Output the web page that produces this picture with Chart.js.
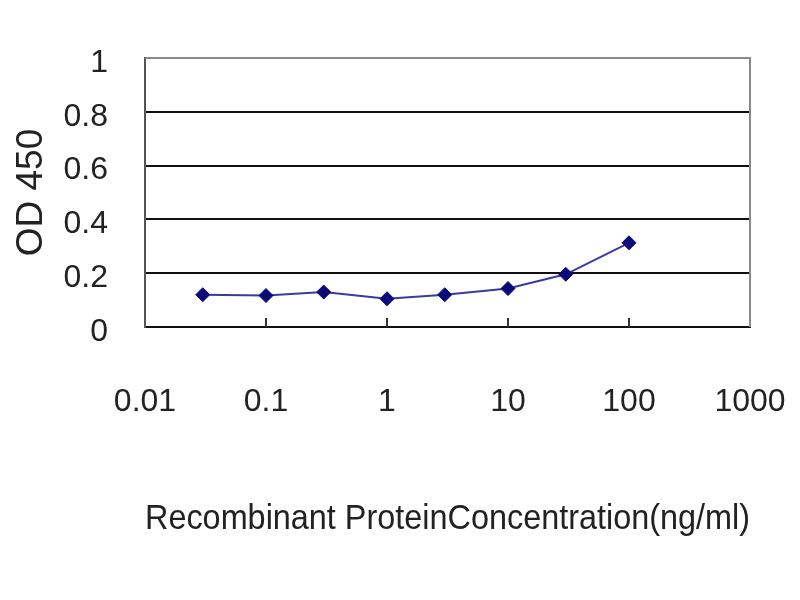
<!DOCTYPE html>
<html>
<head>
<meta charset="utf-8">
<script src="https://cdn.jsdelivr.net/npm/chart.js@4/dist/chart.umd.min.js"></script>
<style>
  html,body{margin:0;padding:0;background:#fff}
  #wrap{width:800px;height:600px}
</style>
</head>
<body>
<div id="wrap"><canvas id="c" width="800" height="600"></canvas></div>
<script>
// valores
const conc = [0.03, 0.1, 0.3, 1, 3, 10, 30, 100];
const od = [0.12, 0.117, 0.13, 0.105, 0.12, 0.143, 0.196, 0.313];
const xTicks = [0.01, 0.1, 1, 10, 100, 1000];
const yTicks = [0, 0.2, 0.4, 0.6, 0.8, 1];

const FONT = "'Liberation Sans', Arial, sans-serif";
const NARROW = "'Liberation Sans Narrow', 'Liberation Sans', Arial, sans-serif";

// moldura cinza + tracinhos internos do eixo x
const frame = {
  id: "frame",
  afterDraw(chart) {
    const {ctx, chartArea: a, scales} = chart;
    ctx.save();
    ctx.strokeStyle = "#8a8a8a";
    ctx.lineWidth = 2;
    ctx.beginPath();
    ctx.moveTo(a.left, a.top); ctx.lineTo(a.right, a.top); ctx.lineTo(a.right, a.bottom);
    ctx.stroke();
    ctx.strokeStyle = "#333";
    ctx.lineWidth = 2;
    xTicks.slice(1, -1).forEach(v => {
      const x = scales.x.getPixelForValue(v);
      ctx.beginPath(); ctx.moveTo(x, a.bottom); ctx.lineTo(x, a.bottom - 9); ctx.stroke();
    });
    ctx.restore();
  }
};

new Chart(document.getElementById("c"), {
  type: "line",
  data: {
    datasets: [{
      data: conc.map((x, i) => ({x, y: od[i]})),
      borderColor: "#3a3aa0",
      borderWidth: 2,
      pointStyle: "rectRot",
      pointRadius: 7,
      pointBorderWidth: 1,
      pointBackgroundColor: "#0a0a78",
      pointBorderColor: "#0a0a78",
      tension: 0
    }]
  },
  options: {
    responsive: false,
    animation: false,
    layout: { padding: { top: 58, right: 50, left: 0, bottom: 0 } },
    plugins: { legend: { display: false }, tooltip: { enabled: false } },
    scales: {
      x: {
        type: "logarithmic",
        min: 0.01, max: 1000,
        afterBuildTicks: s => { s.ticks = xTicks.map(v => ({value: v})); },
        afterFit: s => { s.height = 273; s.paddingLeft = 0; s.paddingRight = 0; },
        grid: { display: false },
        border: { color: "#111", width: 2 },
        ticks: {
          padding: 48,
          color: "#222",
          font: { family: NARROW, size: 32 },
          maxRotation: 0,
          autoSkip: false,
          callback: v => String(v)
        },
        title: {
          display: true,
          text: "Recombinant ProteinConcentration(ng/ml)",
          color: "#222",
          font: { family: FONT, size: 35 },
          padding: { top: 0, bottom: 60 }
        }
      },
      y: {
        min: 0, max: 1,
        afterBuildTicks: s => { s.ticks = yTicks.map(v => ({value: v})); },
        afterFit: s => { s.width = 145; s.paddingTop = 0; s.paddingBottom = 0; },
        grid: {
          color: c => c.tick && c.tick.value === 1 ? "#8a8a8a" : "#111",
          lineWidth: 2,
          drawTicks: false
        },
        border: { color: "#555", width: 2 },
        ticks: {
          padding: 37,
          labelOffset: 5,
          color: "#222",
          font: { family: NARROW, size: 32 },
          callback: v => String(Math.round(v * 10) / 10)
        },
        title: {
          display: true,
          text: "OD 450",
          color: "#222",
          font: { family: FONT, size: 37 },
          padding: { top: 10, bottom: 0 }
        }
      }
    }
  },
  plugins: [frame]
});
</script>
</body>
</html>
